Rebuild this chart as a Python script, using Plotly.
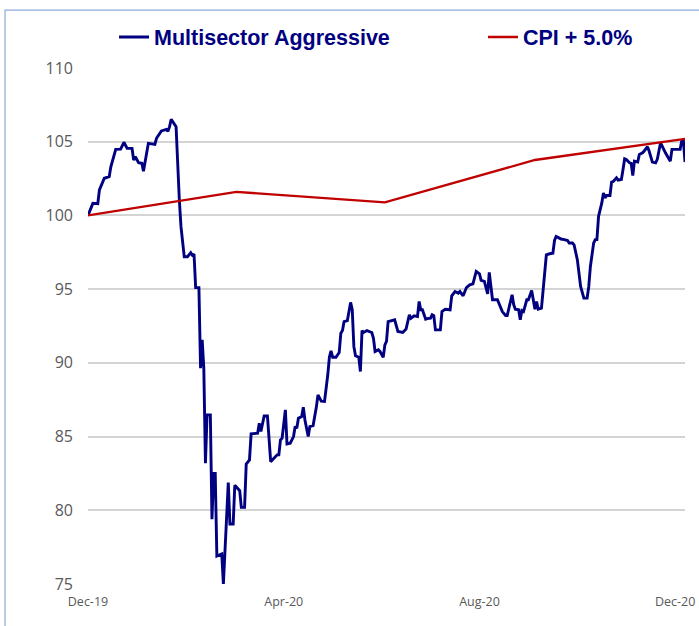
import plotly.graph_objects as go

# Multisector Aggressive index (rebased to 100 at Dec-19)
fund_dates = [
    "2019-12-31", "2020-01-03", "2020-01-06", "2020-01-07", "2020-01-10", "2020-01-13", "2020-01-14",
    "2020-01-17", "2020-01-20", "2020-01-22", "2020-01-24", "2020-01-27", "2020-01-28", "2020-01-29",
    "2020-01-31", "2020-02-02", "2020-02-03", "2020-02-06", "2020-02-10", "2020-02-11", "2020-02-14",
    "2020-02-17", "2020-02-18", "2020-02-19", "2020-02-20", "2020-02-22", "2020-02-23", "2020-02-25",
    "2020-02-26", "2020-02-28", "2020-03-01", "2020-03-03", "2020-03-04", "2020-03-05", "2020-03-06",
    "2020-03-08", "2020-03-09", "2020-03-10", "2020-03-11", "2020-03-12", "2020-03-13", "2020-03-15",
    "2020-03-16", "2020-03-17", "2020-03-18", "2020-03-19", "2020-03-22", "2020-03-23", "2020-03-26",
    "2020-03-27", "2020-03-29", "2020-03-30", "2020-04-01", "2020-04-02", "2020-04-03", "2020-04-05",
    "2020-04-06", "2020-04-08", "2020-04-09", "2020-04-13", "2020-04-14", "2020-04-15", "2020-04-17",
    "2020-04-19", "2020-04-21", "2020-04-23", "2020-04-25", "2020-04-26", "2020-04-27", "2020-04-28",
    "2020-04-30", "2020-05-01", "2020-05-03", "2020-05-05", "2020-05-06", "2020-05-07", "2020-05-08",
    "2020-05-10", "2020-05-11", "2020-05-12", "2020-05-14", "2020-05-15", "2020-05-17", "2020-05-19",
    "2020-05-20", "2020-05-22", "2020-05-24", "2020-05-26", "2020-05-27", "2020-05-28", "2020-05-29",
    "2020-05-31", "2020-06-02", "2020-06-03", "2020-06-04", "2020-06-05", "2020-06-07", "2020-06-09",
    "2020-06-10", "2020-06-11", "2020-06-12", "2020-06-14", "2020-06-15", "2020-06-16", "2020-06-17",
    "2020-06-19", "2020-06-22", "2020-06-23", "2020-06-24", "2020-06-26", "2020-06-27", "2020-06-29",
    "2020-06-30", "2020-07-01", "2020-07-02", "2020-07-06", "2020-07-08", "2020-07-11", "2020-07-13",
    "2020-07-15", "2020-07-16", "2020-07-18", "2020-07-20", "2020-07-21", "2020-07-22", "2020-07-23",
    "2020-07-25", "2020-07-26", "2020-07-28", "2020-07-29", "2020-07-30", "2020-07-31", "2020-08-03",
    "2020-08-04", "2020-08-06", "2020-08-09", "2020-08-10", "2020-08-12", "2020-08-14", "2020-08-15",
    "2020-08-17", "2020-08-19", "2020-08-21", "2020-08-23", "2020-08-24", "2020-08-25", "2020-08-27",
    "2020-08-28", "2020-08-30", "2020-08-31", "2020-09-01", "2020-09-02", "2020-09-03", "2020-09-04",
    "2020-09-07", "2020-09-10", "2020-09-12", "2020-09-13", "2020-09-15", "2020-09-16", "2020-09-17",
    "2020-09-18", "2020-09-20", "2020-09-21", "2020-09-22", "2020-09-23", "2020-09-25", "2020-09-26",
    "2020-09-28", "2020-09-29", "2020-09-30", "2020-10-01", "2020-10-02", "2020-10-04", "2020-10-05",
    "2020-10-06", "2020-10-07", "2020-10-09", "2020-10-11", "2020-10-12", "2020-10-13", "2020-10-15",
    "2020-10-16", "2020-10-18", "2020-10-20", "2020-10-21", "2020-10-23", "2020-10-24", "2020-10-26",
    "2020-10-27", "2020-10-28", "2020-10-30", "2020-11-01", "2020-11-02", "2020-11-03", "2020-11-05",
    "2020-11-06", "2020-11-07", "2020-11-08", "2020-11-10", "2020-11-11", "2020-11-12", "2020-11-13",
    "2020-11-15", "2020-11-16", "2020-11-17", "2020-11-18", "2020-11-19", "2020-11-20", "2020-11-22",
    "2020-11-23", "2020-11-24", "2020-11-25", "2020-11-27", "2020-11-28", "2020-11-29", "2020-11-30",
    "2020-12-02", "2020-12-03", "2020-12-05", "2020-12-06", "2020-12-08", "2020-12-09", "2020-12-11",
    "2020-12-13", "2020-12-14", "2020-12-16", "2020-12-17", "2020-12-18", "2020-12-19", "2020-12-22",
    "2020-12-23", "2020-12-26", "2020-12-28", "2020-12-29", "2020-12-30", "2020-12-31",
]
fund_values = [
    100.00, 100.82, 100.80, 101.73, 102.52, 102.63, 103.30,
    104.48, 104.50, 104.96, 104.55, 104.55, 103.76, 103.98,
    103.58, 103.54, 103.00, 104.89, 104.82, 105.23, 105.73,
    105.84, 105.70, 106.02, 106.52, 106.13, 106.02, 101.05,
    99.24, 97.20, 97.20, 97.47, 97.30, 97.38, 95.10,
    95.10, 89.64, 91.56, 89.64, 83.19, 86.47, 86.47,
    79.39, 82.51, 82.50, 76.90, 77.04, 75.00, 81.88,
    79.07, 79.07, 81.70, 81.43, 81.33, 80.20, 80.20,
    83.14, 83.42, 85.18, 85.23, 85.90, 85.34, 86.40,
    86.40, 83.30, 83.53, 83.76, 83.76, 84.77, 84.89,
    86.81, 84.50, 84.55, 85.00, 85.68, 85.57, 86.24,
    86.36, 86.99, 86.13, 85.00, 85.68, 85.75, 87.00,
    87.83, 87.40, 87.38, 89.19, 90.40, 90.81, 90.38,
    90.38, 90.70, 92.01, 92.19, 92.80, 92.87, 94.10,
    93.60, 91.10, 90.48, 90.38, 89.41, 92.19, 92.06,
    92.19, 92.06, 91.67, 90.77, 90.88, 90.77, 90.38,
    91.22, 91.45, 92.80, 92.92, 92.13, 92.06, 92.29,
    93.26, 93.03, 93.19, 93.14, 94.16, 93.60, 93.60,
    92.96, 93.00, 93.03, 93.26, 93.20, 92.24, 92.24,
    93.48, 93.64, 93.60, 94.55, 94.84, 94.73, 94.84,
    94.55, 95.11, 95.29, 95.36, 95.86, 96.20, 96.04,
    95.59, 95.52, 95.18, 94.68, 96.13, 95.18, 94.28,
    94.28, 93.48, 93.21, 93.21, 94.16, 94.62, 93.94,
    93.64, 93.60, 92.92, 93.55, 93.48, 94.28, 94.28,
    94.91, 94.39, 93.64, 94.16, 93.64, 93.71, 94.95,
    96.20, 97.33, 97.40, 97.44, 98.30, 98.57, 98.46,
    98.40, 98.36, 98.30, 98.13, 98.13, 98.00, 97.00,
    96.09, 95.18, 94.39, 94.39, 95.18, 96.54, 98.13,
    98.36, 98.36, 99.94, 100.85, 101.53, 101.19, 101.35,
    101.35, 102.26, 102.30, 102.44, 102.55, 102.39, 102.44,
    103.12, 103.84, 103.80, 103.57, 103.53, 102.71, 103.68,
    103.62, 104.14, 104.25, 104.37, 104.66, 104.37, 103.62,
    103.57, 103.80, 104.93, 104.70, 104.37, 104.25, 103.68,
    104.48, 104.48, 104.48, 105.05, 105.11, 103.62,
]

# CPI + 5.0% benchmark, quarterly
cpi_dates = ["2019-12-31", "2020-03-31", "2020-06-30", "2020-09-30", "2020-12-31"]
cpi_values = [100.0, 101.6, 100.88, 103.76, 105.2]

# x-axis labels every 120 days from the start, as in the source chart
tick_dates = ["2019-12-31", "2020-04-29", "2020-08-27", "2020-12-25"]
tick_labels = ["Dec-19", "Apr-20", "Aug-20", "Dec-20"]
y_ticks = [75, 80, 85, 90, 95, 100, 105, 110]

fig = go.Figure()

fig.add_trace(go.Scatter(
    x=fund_dates, y=fund_values, mode="lines",
    name="Multisector Aggressive",
    line=dict(color="#000080", width=2.9),
    legend="legend",
))
fig.add_trace(go.Scatter(
    x=cpi_dates, y=cpi_values, mode="lines",
    name="CPI + 5.0%",
    line=dict(color="#C00000", width=2.3),
    legend="legend2",
))

# light blue chart frame (only top and left edges fall inside the picture)
fig.add_shape(
    type="rect", xref="paper", yref="paper",
    x0=-0.139, x1=1.2, y0=-0.3, y1=1.112,
    line=dict(color="#8EAADB", width=1.2), layer="below",
)

legend_font = dict(family="Liberation Sans", size=21.5, color="#000080", weight="bold")

fig.update_layout(
    width=699, height=626,
    margin=dict(l=88, r=14, t=68, b=42, autoexpand=False),
    paper_bgcolor="white", plot_bgcolor="white",
    showlegend=True,
    legend=dict(
        orientation="h", xref="paper", yref="paper",
        x=0.0436, xanchor="left", y=1.06, yanchor="middle",
        font=legend_font, bgcolor="rgba(0,0,0,0)",
    ),
    legend2=dict(
        orientation="h", xref="paper", yref="paper",
        x=0.6616, xanchor="left", y=1.06, yanchor="middle",
        font=legend_font, bgcolor="rgba(0,0,0,0)",
    ),
    xaxis=dict(
        type="date", range=["2019-12-31", "2020-12-31"],
        tickvals=tick_dates, ticktext=tick_labels,
        showgrid=False, zeroline=False, showline=False, ticks="",
        tickfont=dict(family="Open Sans", size=12.5, color="#595959"),
        ticklabelstandoff=8,
    ),
    yaxis=dict(
        range=[75, 110], tickvals=y_ticks,
        showgrid=True, gridcolor="#D4D4D4", gridwidth=1.5,
        zeroline=False, showline=False, ticks="",
        tickfont=dict(family="Open Sans", size=16, color="#595959"),
        ticklabelstandoff=14,
    ),
)

# drop the browser's default body margin so the figure sits at the page origin
fig.write_html(
    "out.html",
    config={"displayModeBar": False},
    post_script="document.body.style.margin = '0';",
)
